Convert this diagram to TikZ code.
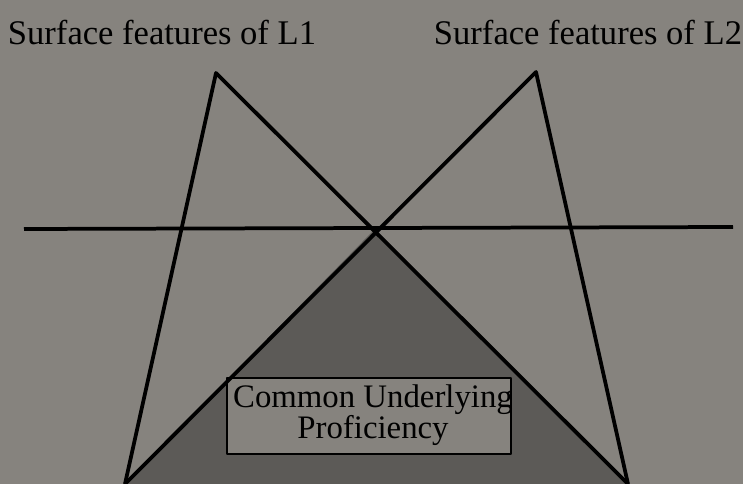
\documentclass[tikz,border=0pt]{standalone}
\usepackage{fontspec}
\setmainfont{Liberation Serif}
\usepackage{tikz}

\definecolor{paper}{HTML}{86837E}
\definecolor{cupgray}{HTML}{5C5A57}

\begin{document}
\begin{tikzpicture}[x=0.03cm,y=-0.03cm,line join=round]
	\useasboundingbox[fill=paper] (0,0) rectangle (743,484);
	\coordinate (TL) at (216,73);
	\coordinate (TR) at (536,72);
	\coordinate (X) at (375,229);
	\coordinate (BL) at (125,484);
	\coordinate (BR) at (628,484);
	\coordinate (HL) at (24,229);
	\coordinate (HR) at (733,227);

	\fill[cupgray] (X) -- (BL) -- (BR) -- cycle;

	\node[draw,line width=2.5pt,fill=paper,minimum width=8.52cm,minimum height=2.28cm] (CUP) at (369,416) {};
	\node[align=center,font=\fontsize{28}{25.5}\selectfont] (CUPtext) at (373,415) {Common Underlying\\Proficiency};

	\node[anchor=base,font=\fontsize{29.5}{30}\selectfont] (L1) at (162,45) {Surface features of L1};
	\node[anchor=base,font=\fontsize{29.5}{30}\selectfont] (L2) at (588,45) {Surface features of L2};

	\draw[line width=3.2pt] (HL) -- (HR);
	\draw[line width=3.2pt] (BL) -- (TL) -- (BR);
	\draw[line width=3.2pt] (BR) -- (TR) -- (BL);
\end{tikzpicture}
\end{document}
